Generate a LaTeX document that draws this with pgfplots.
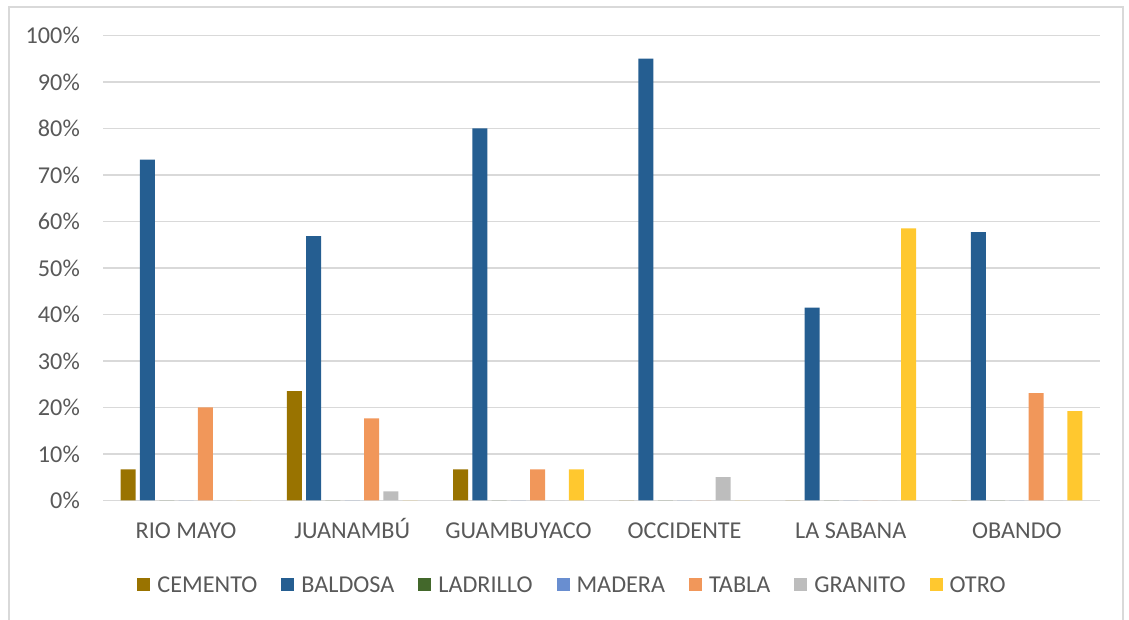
\documentclass[border=0pt]{standalone}
\usepackage{fontspec}
\setmainfont{Carlito}
\usepackage{pgfplots}
\pgfplotsset{compat=1.18}

\definecolor{cemento}{HTML}{997300}
\definecolor{baldosa}{HTML}{255E91}
\definecolor{ladrillo}{HTML}{43682B}
\definecolor{madera}{HTML}{698ED0}
\definecolor{tabla}{HTML}{F1975A}
\definecolor{granito}{HTML}{BDBDBD}
\definecolor{otro}{HTML}{FFC82F}
\definecolor{gridgray}{HTML}{D9D9D9}
\definecolor{txtgray}{HTML}{595959}

\begin{document}
\begin{tikzpicture}
\useasboundingbox (0pt,0pt) rectangle (1129pt,620pt);
% chart frame
\draw[gridgray, line width=1.5pt] (9pt,-10pt) -- (9pt,613pt) -- (1123pt,613pt) -- (1123pt,-10pt);
\begin{axis}[
  at={(103pt,119.5pt)}, anchor=south west,
  scale only axis,
  width=997pt, height=465pt,
  ybar=4.3pt, bar width=15pt,
  xmin=-0.5, xmax=5.5,
  ymin=0, ymax=100,
  xtick={0,1,2,3,4,5},
  xticklabels={RIO MAYO,JUANAMBÚ,GUAMBUYACO,OCCIDENTE,LA SABANA,OBANDO},
  ytick={0,10,...,100},
  yticklabels={0\%,10\%,20\%,30\%,40\%,50\%,60\%,70\%,80\%,90\%,100\%},
  major tick length=0pt,
  axis line style={draw=none},
  ymajorgrids,
  grid style={gridgray, line width=1.6pt},
  tick label style={font=\fontsize{24.2}{28}\selectfont, text=txtgray},
  xticklabel style={anchor=base, yshift=-38.5pt},
  yticklabel style={anchor=east, inner sep=0pt, xshift=-23pt},
  legend columns=7,
  legend style={
    at={(0.471,-0.1817)}, anchor=center,
    draw=none, fill=none,
    font=\fontsize{24.2}{28}\selectfont, text=txtgray,
    /tikz/every odd column/.append style={column sep=5pt},
    /tikz/every even column/.append style={column sep=22pt},
  },
  legend image code/.code={\fill[#1] (0pt,-6.5pt) rectangle (13pt,6.5pt);},
  every axis plot/.append style={draw=none},
]
\addplot[fill=cemento]  coordinates {(0,6.67) (1,23.53) (2,6.67) (3,0) (4,0) (5,0)};
\addplot[fill=baldosa]  coordinates {(0,73.33) (1,56.86) (2,80) (3,95) (4,41.46) (5,57.69)};
\addplot[fill=ladrillo] coordinates {(0,0) (1,0) (2,0) (3,0) (4,0) (5,0)};
\addplot[fill=madera]   coordinates {(0,0) (1,0) (2,0) (3,0) (4,0) (5,0)};
\addplot[fill=tabla]    coordinates {(0,20) (1,17.65) (2,6.67) (3,0) (4,0) (5,23.08)};
\addplot[fill=granito]  coordinates {(0,0) (1,1.96) (2,0) (3,5) (4,0) (5,0)};
\addplot[fill=otro]     coordinates {(0,0) (1,0) (2,6.67) (3,0) (4,58.54) (5,19.23)};
\legend{CEMENTO,BALDOSA,LADRILLO,MADERA,TABLA,GRANITO,OTRO}
\end{axis}
\end{tikzpicture}
\end{document}
